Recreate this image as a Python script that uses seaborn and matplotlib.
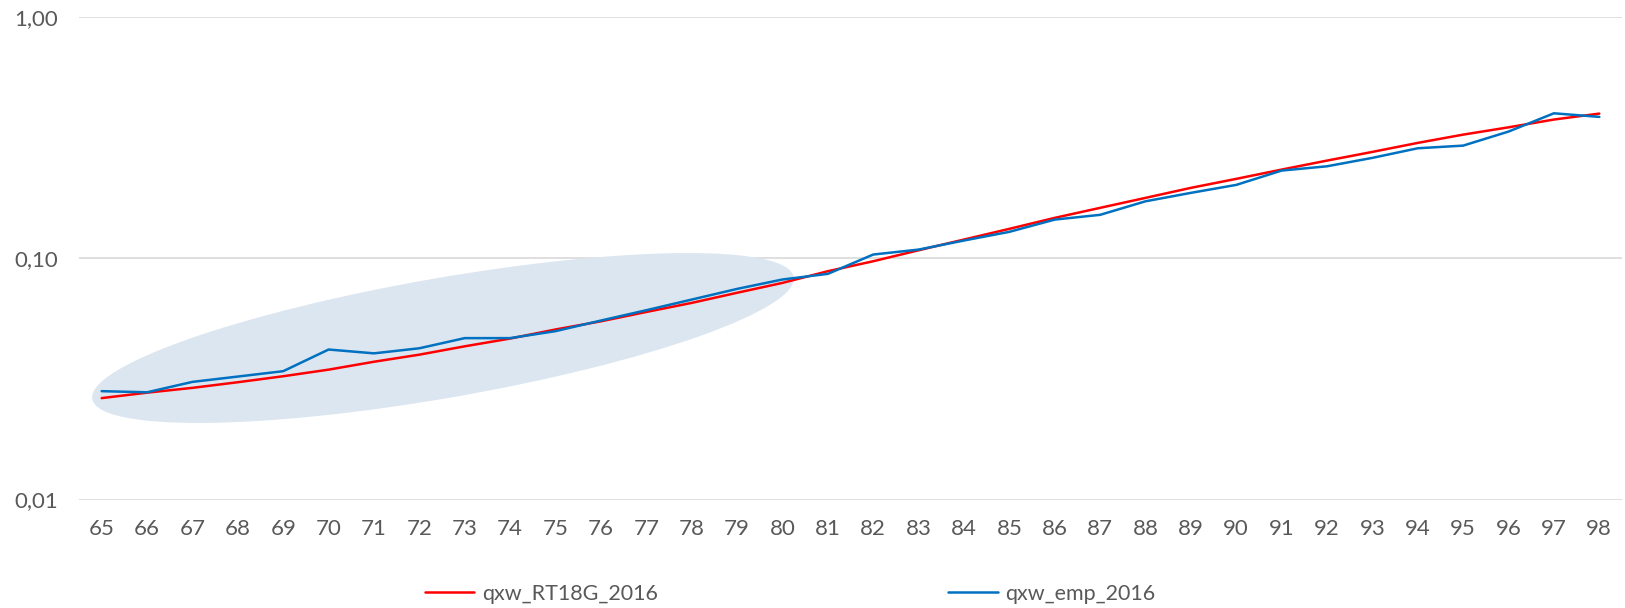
import numpy as np
import pandas as pd
import matplotlib
matplotlib.use("Agg")
import matplotlib.pyplot as plt
import seaborn as sns
from matplotlib.patches import Ellipse
from matplotlib.lines import Line2D
from matplotlib.ticker import FixedLocator, NullLocator, FixedFormatter

ages = list(range(65, 99))
qxw_RT18G_2016 = [0.0263, 0.0277, 0.0290, 0.0306, 0.0324, 0.0345, 0.0372, 0.0398,
                  0.0431, 0.0464, 0.0506, 0.0547, 0.0598, 0.0652, 0.0718, 0.0789,
                  0.0882, 0.0970, 0.1077, 0.1193, 0.1321, 0.1467, 0.1614, 0.1775,
                  0.1953, 0.2128, 0.2325, 0.2533, 0.2752, 0.2999, 0.3245, 0.3479,
                  0.3747, 0.3965]
qxw_emp_2016 = [0.0281, 0.0278, 0.0307, 0.0323, 0.0340, 0.0418, 0.0403, 0.0423,
                0.0466, 0.0466, 0.0498, 0.0551, 0.0608, 0.0673, 0.0745, 0.0815,
                0.0860, 0.1034, 0.1084, 0.1182, 0.1284, 0.1443, 0.1510, 0.1718,
                0.1862, 0.2009, 0.2303, 0.2399, 0.2600, 0.2849, 0.2922, 0.3341,
                0.3977, 0.3843]
series_names = ["qxw_RT18G_2016", "qxw_emp_2016"]
y_ticks = [0.01, 0.1, 1.0]
y_tick_labels = ["0,01", "0,10", "1,00"]

df = pd.DataFrame({
    "age": ages * 2,
    "qx": qxw_RT18G_2016 + qxw_emp_2016,
    "series": [series_names[0]] * len(ages) + [series_names[1]] * len(ages),
})

sns.set_theme(style="white")
plt.rcParams["font.family"] = ["Lato", "DejaVu Sans"]

fig = plt.figure(figsize=(16.25, 6.08), dpi=100)
ax = fig.add_axes([79 / 1625, 1 - 499.5 / 608, (1622 - 79) / 1625, (499.5 - 16.6) / 608])

# highlight ellipse (pixel based, y up)
ell = Ellipse((4.43, (608 - 338) / 100), width=7.12, height=1.20, angle=9.87,
              transform=fig.dpi_scale_trans, facecolor="#dce6f1", edgecolor="none", zorder=1)
ax.add_patch(ell)

sns.lineplot(data=df, x="age", y="qx", hue="series",
             palette={series_names[0]: "#ff0000", series_names[1]: "#0070c0"},
             linewidth=1.8, ax=ax, legend=False, zorder=3)

ax.set_yscale("log")
ax.set_ylim(0.01, 1.0)
ax.set_xlim(64.5, 98.5)
ax.yaxis.set_major_locator(FixedLocator(y_ticks))
ax.yaxis.set_major_formatter(FixedFormatter(y_tick_labels))
ax.yaxis.set_minor_locator(NullLocator())
ax.set_xticks(ages)
ax.set_xticklabels([str(a) for a in ages])
ax.grid(axis="y", color="#d9d9d9", linewidth=1.2, zorder=0)
ax.set_axisbelow(True)
for s in ax.spines.values():
    s.set_visible(False)
ax.tick_params(axis="both", length=0, labelsize=16, colors="#595959")
ax.tick_params(axis="y", pad=15)
ax.tick_params(axis="x", pad=14)
ax.set_xlabel("")
ax.set_ylabel("")

handles = [Line2D([], [], color="#ff0000", linewidth=1.8),
           Line2D([], [], color="#0070c0", linewidth=1.8)]
fig.legend(handles, series_names, loc="center", bbox_to_anchor=(790 / 1625, 1 - 594 / 608),
           ncol=2, frameon=False, fontsize=15.5, labelcolor="#595959",
           handlelength=2.3, handletextpad=0.35, columnspacing=13.5)

fig.savefig("out.png", dpi=100)
